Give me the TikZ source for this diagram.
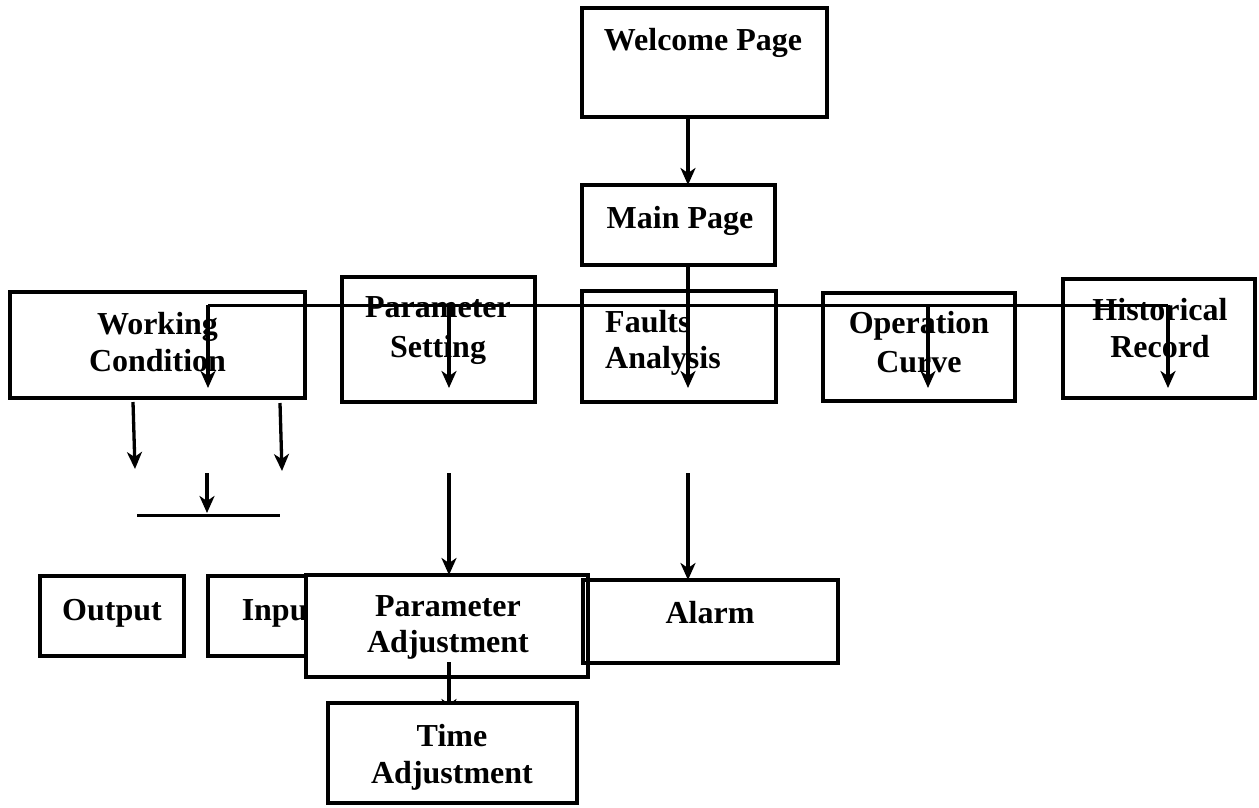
\documentclass[tikz,border=0pt]{standalone}
\usepackage{fontspec}
\setmainfont{Liberation Serif}
\usetikzlibrary{arrows.meta}
\begin{document}
\begin{tikzpicture}[x=1pt,y=-1pt,
  bx/.style={draw, line width=4.4pt, fill=white, inner sep=0pt, outer sep=0pt},
  bxo/.style={draw, line width=4.4pt, inner sep=0pt, outer sep=0pt},
  lbl/.style={font=\fontsize{32}{37}\selectfont\bfseries, inner sep=0pt, align=center, anchor=base},
  arr/.style={line width=3.3pt, -{Stealth[length=17pt,width=15pt,inset=5pt]}},
  bus/.style={line width=3pt}]
\useasboundingbox (0,0) rectangle (1259,807);

% upper boxes
\node[bx, minimum width=245pt, minimum height=109pt] (wel) at (704.5,62.5) {};
\node[bx, minimum width=193pt, minimum height=80pt] (mainp) at (678.5,225) {};
\node[bx, minimum width=295pt, minimum height=106pt] (work) at (157.5,345) {};
\node[bx, minimum width=193pt, minimum height=125pt] (pset) at (438.5,339.5) {};
\node[bx, minimum width=194pt, minimum height=111pt] (fault) at (679,346.5) {};
\node[bx, minimum width=192pt, minimum height=108pt] (opc) at (919,347) {};
\node[bx, minimum width=192pt, minimum height=119pt] (hist) at (1159,338.5) {};

\node[lbl] (wel-t) at (703,50) {Welcome Page};
\node[lbl] (mainp-t) at (680,228) {Main Page};
\node[lbl] (work-t) at (157.5,371) {Working\\Condition};
\node[lbl] (pset-t) at (438,357) {Parameter\\[3pt]Setting};
\node[lbl, align=left, anchor=base west] (fault-t) at (605,368) {Faults\\[-1pt]Analysis};
\node[lbl] (opc-t) at (919,372) {Operation\\[2pt]Curve};
\node[lbl] (hist-t) at (1160,357) {Historical\\Record};

% bus
\coordinate (xa) at (688,305);
\coordinate (b1) at (208,305);
\coordinate (b2) at (449,305);
\coordinate (b4) at (928,305);
\coordinate (b5) at (1168,305);
\coordinate (t1) at (208,388);
\coordinate (t2) at (449,388);
\coordinate (t3) at (688,388);
\coordinate (t4) at (928,388);
\coordinate (t5) at (1168,388);

\draw[arr] (wel.south -| xa) -- (mainp.north -| xa);
\draw[bus] (b1) -- (b5);
\draw[arr] (mainp.south -| xa) -- (t3);
\draw[arr] (b1) -- (t1);
\draw[arr] (b2) -- (t2);
\draw[arr] (b4) -- (t4);
\draw[arr] (b5) -- (t5);

% working condition branches
\coordinate (w1a) at (133,402);
\coordinate (w1b) at (135,469);
\coordinate (w2a) at (280,403);
\coordinate (w2b) at (282,471);
\coordinate (w3a) at (207,473);
\coordinate (w3b) at (207,513);
\coordinate (hl1) at (137,515);
\coordinate (hl2) at (280,515);
\draw[arr] (w1a) -- (w1b);
\draw[arr] (w2a) -- (w2b);
\draw[arr] (w3a) -- (w3b);
\draw[bus] (hl1) -- (hl2);

% lower boxes
\node[bx, minimum width=144pt, minimum height=80pt] (outp) at (112,616) {};
\node[bx, minimum width=144pt, minimum height=80pt] (inp) at (280,616) {};
\node[lbl] (outp-t) at (112,620) {Output};
\node[lbl] (inp-t) at (280,620) {Input};

\node[bx, minimum width=282pt, minimum height=102pt] (padj) at (447,626) {};
\node[lbl] (padj-t) at (448,652) {Parameter\\[-1pt]Adjustment};
\node[bxo, minimum width=255pt, minimum height=83pt] (alarm) at (710.5,621.5) {};
\node[lbl] (alarm-t) at (710,623) {Alarm};

\coordinate (p1) at (449,473);
\coordinate (f1) at (688,473);
\draw[arr] (p1) -- (padj.north -| p1);
\draw[arr] (f1) -- (alarm.north -| f1);

\coordinate (q1) at (449,662);
\coordinate (q2) at (449,716);
\draw[arr] (q1) -- (q2);

\node[bx, minimum width=249pt, minimum height=100pt] (tadj) at (452.5,753) {};
\node[lbl] (tadj-t) at (452,783) {Time\\Adjustment};
\end{tikzpicture}
\end{document}
